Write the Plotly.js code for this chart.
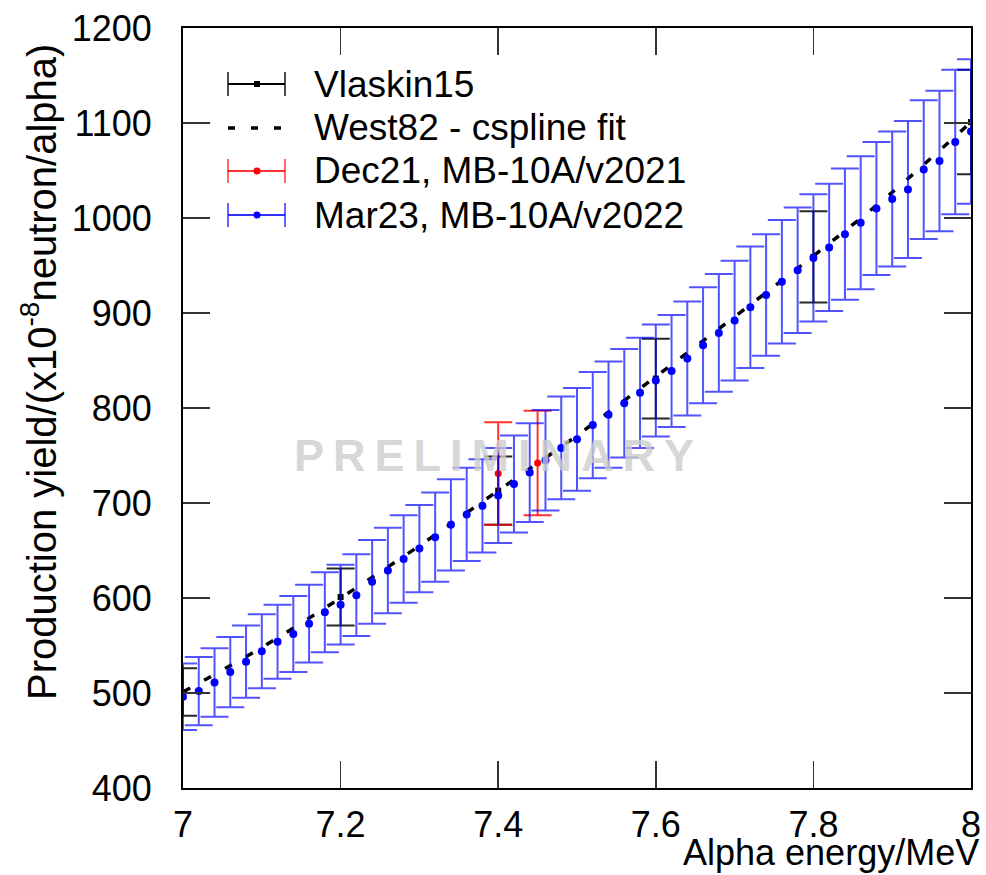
<!DOCTYPE html>
<html>
<head>
<meta charset="utf-8">
<script src="https://cdn.plot.ly/plotly-3.0.1.min.js"></script>
<style>html,body{margin:0;padding:0;background:#fff;}#chart{width:986px;height:875px;}</style>
</head>
<body>
<div id="chart"></div>
<script>
// ---- data ----
const mar23Energy = [7.00,7.02,7.04,7.06,7.08,7.10,7.12,7.14,7.16,7.18,7.20,7.22,7.24,7.26,7.28,7.30,7.32,7.34,7.36,7.38,7.40,7.42,7.44,7.46,7.48,7.50,7.52,7.54,7.56,7.58,7.60,7.62,7.64,7.66,7.68,7.70,7.72,7.74,7.76,7.78,7.80,7.82,7.84,7.86,7.88,7.90,7.92,7.94,7.96,7.98,8.00];
const mar23Yield = [496,502,511,522,533,544,554,562,573,585,593,603,617,629,641,652,664,677,688,697,708,720,732,745,758,767,782,793,805,816,829,839,852,866,879,892,906,919,933,945,958,969,983,995,1010,1020,1030,1051,1060,1080,1091];
const mar23Err = [35,36,36,37,38,39,39,40,41,42,42,43,44,45,46,46,47,48,49,49,50,51,52,53,54,54,56,56,57,58,59,59,60,61,62,63,64,64,65,66,67,67,69,70,70,71,72,73,74,76,76];

const dec21Energy = [7.40, 7.45];
const dec21Yield = [731, 742];
const dec21Err = [54, 55];

const vlaskinEnergy = [7.0, 7.2, 7.4, 7.6, 7.8, 8.0];
const vlaskinYield = [501, 601, 713, 831, 959, 1101];
const vlaskinErr = [25, 30, 36, 42, 48, 55];

const west82Energy = [7.0, 7.1, 7.2, 7.3, 7.4, 7.5, 7.6, 7.7, 7.8, 7.9, 8.0];
const west82Yield = [501, 548, 600, 655, 713, 771, 833, 896, 960, 1027, 1101];

const xTickVals = [7, 7.2, 7.4, 7.6, 7.8, 8];
const xTickText = ['7', '7.2', '7.4', '7.6', '7.8', '8'];
const yTickVals = [400, 500, 600, 700, 800, 900, 1000, 1100, 1200];

const legendNames = ['Vlaskin15', 'West82 - cspline fit', 'Dec21, MB-10A/v2021', 'Mar23, MB-10A/v2022'];

// ---- layout helpers (pixel -> paper) ----
const L = 183, R = 15, T = 28, B = 87, W = 986, H = 875;
const PW = W - L - R, PH = H - T - B;
const px = v => (v - L) / PW;
const py = v => (H - B - v) / PH;
const FONT = 'Liberation Sans, Arial, Helvetica, sans-serif';

const traces = [
  {
    x: vlaskinEnergy, y: vlaskinYield, type: 'scatter', mode: 'markers',
    marker: {color: '#000', size: 6, symbol: 'square'},
    error_y: {type: 'data', array: vlaskinErr, visible: true, color: 'rgba(0,0,0,0.85)', thickness: 2, width: 14},
    showlegend: false
  },
  {
    x: west82Energy, y: west82Yield, type: 'scatter', mode: 'lines',
    line: {color: '#000', width: 3.5, dash: '8px,16px', shape: 'spline', smoothing: 0.8},
    showlegend: false
  },
  {
    x: dec21Energy, y: dec21Yield, type: 'scatter', mode: 'markers',
    marker: {color: '#ff0000', size: 7},
    error_y: {type: 'data', array: dec21Err, visible: true, color: 'rgba(255,0,0,0.8)', thickness: 2, width: 14},
    showlegend: false
  },
  {
    x: mar23Energy, y: mar23Yield, type: 'scatter', mode: 'markers',
    marker: {color: '#0000ff', size: 8},
    error_y: {type: 'data', array: mar23Err, visible: true, color: 'rgba(0,0,255,0.68)', thickness: 2, width: 14},
    showlegend: false
  }
];

// legend drawn by hand in gnuplot style
const rows = [84, 128, 171, 215];
const sx0 = 228, sx1 = 285, sxm = 257, tx = 312;
const shapes = [];
const annotations = [];
function hline(x0, x1, y, color, width, dash) {
  shapes.push({type: 'line', xref: 'paper', yref: 'paper', x0: px(x0), x1: px(x1), y0: py(y), y1: py(y),
    line: {color: color, width: width, dash: dash || 'solid'}});
}
function vline(x, y0, y1, color, width) {
  shapes.push({type: 'line', xref: 'paper', yref: 'paper', x0: px(x), x1: px(x), y0: py(y0), y1: py(y1),
    line: {color: color, width: width}});
}
function dot(x, y, r, color, square) {
  shapes.push({type: square ? 'rect' : 'circle', xref: 'paper', yref: 'paper',
    xsizemode: 'pixel', ysizemode: 'pixel', xanchor: px(x), yanchor: py(y),
    x0: -r, x1: r, y0: -r, y1: r, fillcolor: color, line: {width: 0}});
}
// Vlaskin15
hline(sx0, sx1, rows[0], '#000', 2);
vline(sx0, rows[0] - 12, rows[0] + 12, 'rgba(0,0,0,0.7)', 2);
vline(sx1, rows[0] - 12, rows[0] + 12, 'rgba(0,0,0,0.7)', 2);
dot(sxm, rows[0], 3, '#000', true);
// West82
hline(sx0, sx1, rows[1], '#000', 3.5, '7px,16px');
// Dec21
hline(sx0, sx1, rows[2], 'rgba(255,0,0,0.8)', 2);
vline(sx0, rows[2] - 12, rows[2] + 12, 'rgba(255,0,0,0.6)', 2);
vline(sx1, rows[2] - 12, rows[2] + 12, 'rgba(255,0,0,0.6)', 2);
dot(sxm, rows[2], 3.5, '#ff0000');
// Mar23
hline(sx0, sx1, rows[3], 'rgba(0,0,255,0.8)', 2);
vline(sx0, rows[3] - 12, rows[3] + 12, 'rgba(0,0,255,0.6)', 2);
vline(sx1, rows[3] - 12, rows[3] + 12, 'rgba(0,0,255,0.6)', 2);
dot(sxm, rows[3], 3.5, '#0000ff');

legendNames.forEach((n, i) => {
  annotations.push({xref: 'paper', yref: 'paper', x: px(tx), y: py(rows[i]), xanchor: 'left', yanchor: 'middle',
    text: n, showarrow: false, font: {family: FONT, size: 37, color: '#000'}});
});

// axis titles
annotations.push({xref: 'paper', yref: 'paper', x: px(39), y: py(372), xanchor: 'center', yanchor: 'middle',
  textangle: -90, showarrow: false,
  text: 'Production yield/(x10<sup>-8</sup>neutron/alpha)', font: {family: FONT, size: 40, color: '#000'}});
annotations.push({xref: 'paper', yref: 'paper', x: px(981), y: py(852), xanchor: 'right', yanchor: 'middle',
  showarrow: false, text: 'Alpha energy/MeV', font: {family: FONT, size: 36, color: '#000'}});

// watermark
annotations.push({xref: 'paper', yref: 'paper', x: px(494), y: py(455), xanchor: 'center', yanchor: 'middle',
  showarrow: false, text: 'PRELIMINARY'.split('').join('\u2009'),
  font: {family: FONT, size: 45, weight: 'bold', color: 'rgba(205,205,205,0.8)'}});

const axisCommon = {
  showline: true, linecolor: '#000', linewidth: 2, mirror: 'ticks',
  ticks: 'inside', ticklen: 27, tickwidth: 1.5, tickcolor: '#333',
  showgrid: false, zeroline: false,
  tickfont: {family: FONT, size: 36, color: '#000'}
};

const layout = {
  width: W, height: H,
  margin: {l: L, r: R, t: T, b: B, pad: 0},
  paper_bgcolor: '#fff', plot_bgcolor: '#fff',
  showlegend: false,
  xaxis: Object.assign({}, axisCommon, {range: [7, 8], tickvals: xTickVals, ticktext: xTickText, ticklabelstandoff: 4}),
  yaxis: Object.assign({}, axisCommon, {range: [400, 1200], tickvals: yTickVals, ticklabelstandoff: 22}),
  shapes: shapes,
  annotations: annotations
};

Plotly.newPlot('chart', traces, layout, {displayModeBar: false, staticPlot: true});
</script>
</body>
</html>
